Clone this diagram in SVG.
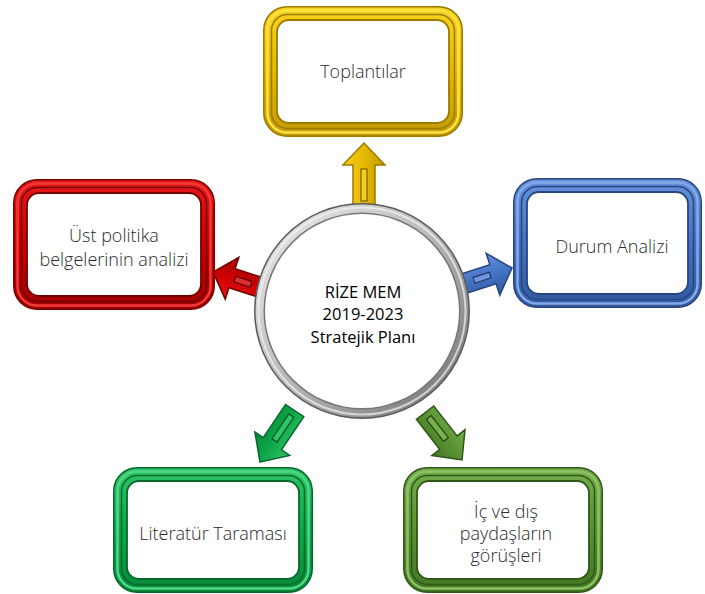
<svg xmlns="http://www.w3.org/2000/svg" width="705" height="594" viewBox="0 0 705 594">
<defs>
<linearGradient id="gY" x1="0" y1="0" x2="0" y2="1"><stop offset="0" stop-color="#F7D21E"/><stop offset="0.5" stop-color="#E6B800"/><stop offset="1" stop-color="#C29A00"/></linearGradient>
<linearGradient id="gR" x1="0" y1="0" x2="0" y2="1"><stop offset="0" stop-color="#E41818"/><stop offset="0.5" stop-color="#CC0000"/><stop offset="1" stop-color="#A00000"/></linearGradient>
<linearGradient id="gB" x1="0" y1="0" x2="0" y2="1"><stop offset="0" stop-color="#6690DA"/><stop offset="0.5" stop-color="#4472C4"/><stop offset="1" stop-color="#33599E"/></linearGradient>
<linearGradient id="gG" x1="0" y1="0" x2="0" y2="1"><stop offset="0" stop-color="#2EC466"/><stop offset="0.5" stop-color="#0EA84A"/><stop offset="1" stop-color="#0A883A"/></linearGradient>
<linearGradient id="gO" x1="0" y1="0" x2="0" y2="1"><stop offset="0" stop-color="#74AE4A"/><stop offset="0.5" stop-color="#599233"/><stop offset="1" stop-color="#437624"/></linearGradient>
<linearGradient id="gS" x1="0" y1="0" x2="1" y2="1"><stop offset="0" stop-color="#EEEEEE"/><stop offset="0.45" stop-color="#BDBDBD"/><stop offset="1" stop-color="#6E6E6E"/></linearGradient>
</defs>
<style>
.md{stroke:none}
.lt,.gv{fill:none}
.lt{stroke-width:2.5}
.gv{stroke-width:1.5}
.wh{fill:#fff;stroke-width:1.8}
.y .dk{fill:#9A7A00}.y .md{fill:url(#gY)}.y .lt{stroke:#FFE24A}.y .gv,.y .wh{stroke:#9A7A00}
.r .dk{fill:#7A0000}.r .md{fill:url(#gR)}.r .lt{stroke:#F23A3A}.r .gv,.r .wh{stroke:#700000}
.b .dk{fill:#264680}.b .md{fill:url(#gB)}.b .lt{stroke:#84A9EA}.b .gv,.b .wh{stroke:#264680}
.g .dk{fill:#06692C}.g .md{fill:url(#gG)}.g .lt{stroke:#4ED886}.g .gv,.g .wh{stroke:#06692C}
.o .dk{fill:#2F5818}.o .md{fill:url(#gO)}.o .lt{stroke:#8DC264}.o .gv,.o .wh{stroke:#2F5818}
.ar{stroke-width:1.5;stroke-linejoin:miter}
.y .ar{fill:url(#gY);stroke:#9A7A00}.r .ar{fill:url(#gR);stroke:#700000}.b .ar{fill:url(#gB);stroke:#264680}.g .ar{fill:url(#gG);stroke:#06692C}.o .ar{fill:url(#gO);stroke:#2F5818}
.sl{stroke-width:1.2}
.y .sl{fill:#F2CC22;stroke:#7A6000}.r .sl{fill:#D83030;stroke:#5A0000}.b .sl{fill:#6E96DC;stroke:#1E3A6C}.g .sl{fill:#30C468;stroke:#055424}.o .sl{fill:#79B050;stroke:#244612}
.bt{font-family:"Open Sans","Noto Sans","Liberation Sans",sans-serif;font-size:18px;font-weight:300;fill:#2b2b2b;text-anchor:middle}
.ct{font-family:"Open Sans","Noto Sans","Liberation Sans",sans-serif;font-size:16.5px;fill:#000;text-anchor:middle}
</style>

<g id="connectors">
<g class="y" transform="translate(364,143) rotate(-90)"><path class="ar" d="M0,0 L-22,-21 L-22,-11 L-65,-11 L-65,11 L-22,11 L-22,21 Z"/><rect class="sl" x="-58" y="-3" width="32" height="6"/></g>
<g class="b" transform="translate(512,268) rotate(-18)"><path class="ar" d="M0,0 L-20,-22 L-20,-10 L-52,-10 L-52,10 L-20,10 L-20,22 Z"/><rect class="sl" x="-40" y="-3" width="17" height="6"/></g>
<g class="r" transform="translate(213,272) rotate(198)"><path class="ar" d="M0,0 L-20,-22 L-20,-10 L-52,-10 L-52,10 L-20,10 L-20,22 Z"/><rect class="sl" x="-40" y="-3" width="17" height="6"/></g>
<g class="g" transform="translate(260,462) rotate(124)"><path class="ar" d="M0,0 L-22,-21 L-22,-11 L-62,-11 L-62,11 L-22,11 L-22,21 Z"/><rect class="sl" x="-56" y="-3" width="30" height="6"/></g>
<g class="o" transform="translate(462,460) rotate(52)"><path class="ar" d="M0,0 L-22,-21 L-22,-11 L-60,-11 L-60,11 L-22,11 L-22,21 Z"/><rect class="sl" x="-54" y="-3" width="28" height="6"/></g>
</g>

<g id="center">
<circle cx="362" cy="311" r="108" fill="#5A5A5A"/>
<circle cx="362" cy="311" r="106.5" fill="url(#gS)"/>
<circle cx="362" cy="311" r="103.5" fill="none" stroke="#F2F2F2" stroke-width="2" opacity="0.7"/>
<circle cx="362" cy="311" r="98.5" fill="#777"/>
<circle cx="362" cy="311" r="97" fill="#fff"/>
<text class="ct" x="363" y="298">RİZE MEM</text>
<text class="ct" x="363" y="320">2019-2023</text>
<text class="ct" x="363" y="343">Stratejik Planı</text>
</g>

<g id="toplantilar" class="y">
<rect class="dk" x="263" y="6" width="200" height="131" rx="24"/>
<rect class="md" x="264.5" y="7.5" width="197" height="128" rx="22.5"/>
<rect class="lt" x="267.5" y="10.5" width="191" height="122" rx="19.5"/>
<rect class="gv" x="271.5" y="14.5" width="183" height="114" rx="16"/>
<rect class="wh" x="277" y="20" width="172" height="103" rx="12"/>
<text class="bt" x="363" y="78">Toplantılar</text>
</g>

<g id="ust-politika" class="r">
<rect class="dk" x="13" y="179" width="202" height="131" rx="24"/>
<rect class="md" x="14.5" y="180.5" width="199" height="128" rx="22.5"/>
<rect class="lt" x="17.5" y="183.5" width="193" height="122" rx="19.5"/>
<rect class="gv" x="21.5" y="187.5" width="185" height="114" rx="16"/>
<rect class="wh" x="27" y="193" width="174" height="103" rx="12"/>
<text class="bt" x="114" y="242">Üst politika</text>
<text class="bt" x="114" y="266">belgelerinin analizi</text>
</g>

<g id="durum-analizi" class="b">
<rect class="dk" x="513" y="178" width="189" height="130" rx="24"/>
<rect class="md" x="514.5" y="179.5" width="186" height="127" rx="22.5"/>
<rect class="lt" x="517.5" y="182.5" width="180" height="121" rx="19.5"/>
<rect class="gv" x="521.5" y="186.5" width="172" height="113" rx="16"/>
<rect class="wh" x="527" y="192" width="161" height="102" rx="12"/>
<text class="bt" x="612" y="253">Durum Analizi</text>
</g>

<g id="literatur" class="g">
<rect class="dk" x="113" y="467" width="200" height="126" rx="24"/>
<rect class="md" x="114.5" y="468.5" width="197" height="123" rx="22.5"/>
<rect class="lt" x="117.5" y="471.5" width="191" height="117" rx="19.5"/>
<rect class="gv" x="121.5" y="475.5" width="183" height="109" rx="16"/>
<rect class="wh" x="127" y="481" width="172" height="98" rx="12"/>
<text class="bt" x="213" y="540">Literatür Taraması</text>
</g>

<g id="paydaslar" class="o">
<rect class="dk" x="403" y="467" width="200" height="126" rx="24"/>
<rect class="md" x="404.5" y="468.5" width="197" height="123" rx="22.5"/>
<rect class="lt" x="407.5" y="471.5" width="191" height="117" rx="19.5"/>
<rect class="gv" x="411.5" y="475.5" width="183" height="109" rx="16"/>
<rect class="wh" x="417" y="481" width="172" height="98" rx="12"/>
<text class="bt" x="506" y="518">İç ve dış</text>
<text class="bt" x="506" y="540">paydaşların</text>
<text class="bt" x="506" y="562">görüşleri</text>
</g>
</svg>
